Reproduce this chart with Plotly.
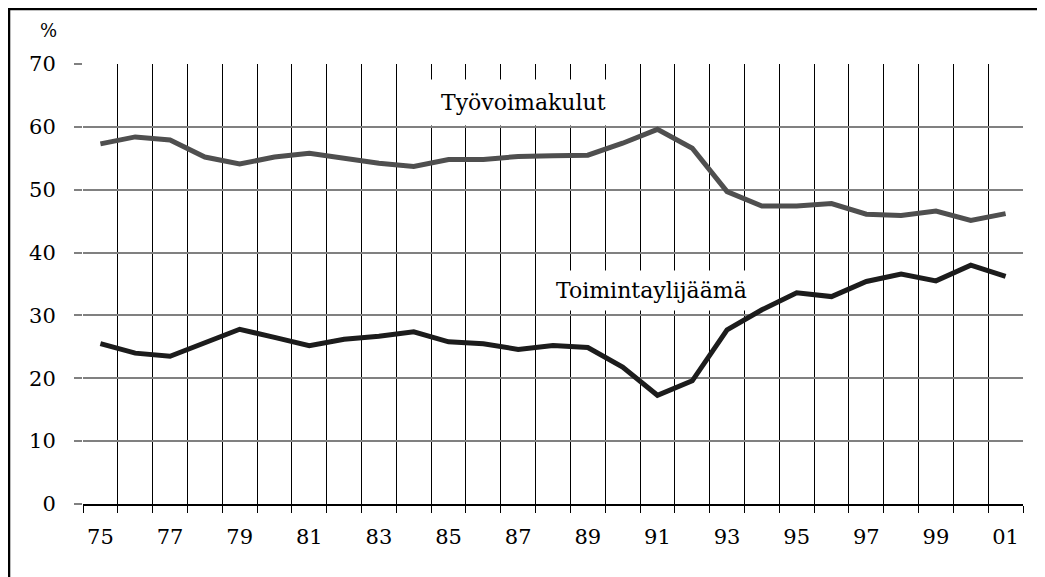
import plotly.graph_objects as go

years = ['75', '76', '77', '78', '79', '80', '81', '82', '83', '84', '85', '86', '87', '88',
         '89', '90', '91', '92', '93', '94', '95', '96', '97', '98', '99', '00', '01']
year_labels = [y if i % 2 == 0 else '' for i, y in enumerate(years)]

tyovoimakulut = [57.3, 58.4, 57.9, 55.2, 54.1, 55.2, 55.8, 55.0, 54.2, 53.7, 54.8, 54.8, 55.3, 55.4,
                 55.5, 57.4, 59.6, 56.6, 49.7, 47.4, 47.4, 47.8, 46.1, 45.9, 46.6, 45.1, 46.2]
toimintaylijaama = [25.5, 24.0, 23.5, 25.6, 27.8, 26.5, 25.2, 26.2, 26.7, 27.4, 25.8, 25.5, 24.6, 25.2,
                    24.9, 21.8, 17.3, 19.6, 27.7, 30.9, 33.6, 33.0, 35.4, 36.6, 35.5, 38.0, 36.2]

y_ticks = [0, 10, 20, 30, 40, 50, 60, 70]

FONT = "DejaVu Serif"

fig = go.Figure()
fig.add_trace(go.Scatter(x=years, y=tyovoimakulut, mode="lines", name="Työvoimakulut",
                         line=dict(color="#4f4f4f", width=5)))
fig.add_trace(go.Scatter(x=years, y=toimintaylijaama, mode="lines", name="Toimintaylijäämä",
                         line=dict(color="#1c1c1c", width=5)))

fig.update_layout(
    width=1045, height=577,
    margin=dict(l=75, r=30, t=56, b=81),
    paper_bgcolor="white", plot_bgcolor="white",
    showlegend=False,
    font=dict(family=FONT, color="black"),
    xaxis=dict(
        type="category", range=[-0.5, 26.5],
        tickmode="array", tickvals=years, ticktext=year_labels, tickangle=0,
        tickson="boundaries", ticks="outside", ticklen=7, tickcolor="black", tickwidth=1,
        showgrid=True, gridcolor="black", gridwidth=1,
        showline=True, linecolor="black", linewidth=1.5,
        tickfont=dict(size=21, family=FONT, color="black"),
        ticklabelstandoff=13,
        zeroline=False, fixedrange=True,
    ),
    yaxis=dict(
        range=[0, 70], tickmode="array", tickvals=y_ticks,
        ticks="outside", ticklen=8, tickcolor="#808080", tickwidth=1.5,
        showgrid=True, gridcolor="#808080", gridwidth=1.5,
        zeroline=False, showline=False,
        tickfont=dict(size=21, family=FONT, color="black"),
        ticklabelstandoff=14,
        fixedrange=True,
    ),
    annotations=[
        dict(x=12.14, y=63.9, xref="x", yref="y", text="Työvoimakulut", showarrow=False,
             xanchor="center", yanchor="middle",
             font=dict(size=22, family=FONT, color="black"), bgcolor="white", borderpad=10),
        dict(x=15.82, y=33.9, xref="x", yref="y", text="Toimintaylijäämä", showarrow=False,
             xanchor="center", yanchor="middle",
             font=dict(size=22, family=FONT, color="black"), bgcolor="white", borderpad=7),
        dict(x=-0.037, y=1.077, xref="paper", yref="paper", text="%", showarrow=False,
             xanchor="center", yanchor="middle",
             font=dict(size=18, family=FONT, color="black")),
    ],
    shapes=[
        dict(type="line", xref="paper", yref="paper", x0=-0.0798, x1=1.05, y0=1.125, y1=1.125,
             line=dict(color="black", width=2.5)),
        dict(type="line", xref="paper", yref="paper", x0=-0.0787, x1=-0.0787, y0=1.127, y1=-0.25,
             line=dict(color="black", width=2.5)),
    ],
)

fig.write_html("out.html")
